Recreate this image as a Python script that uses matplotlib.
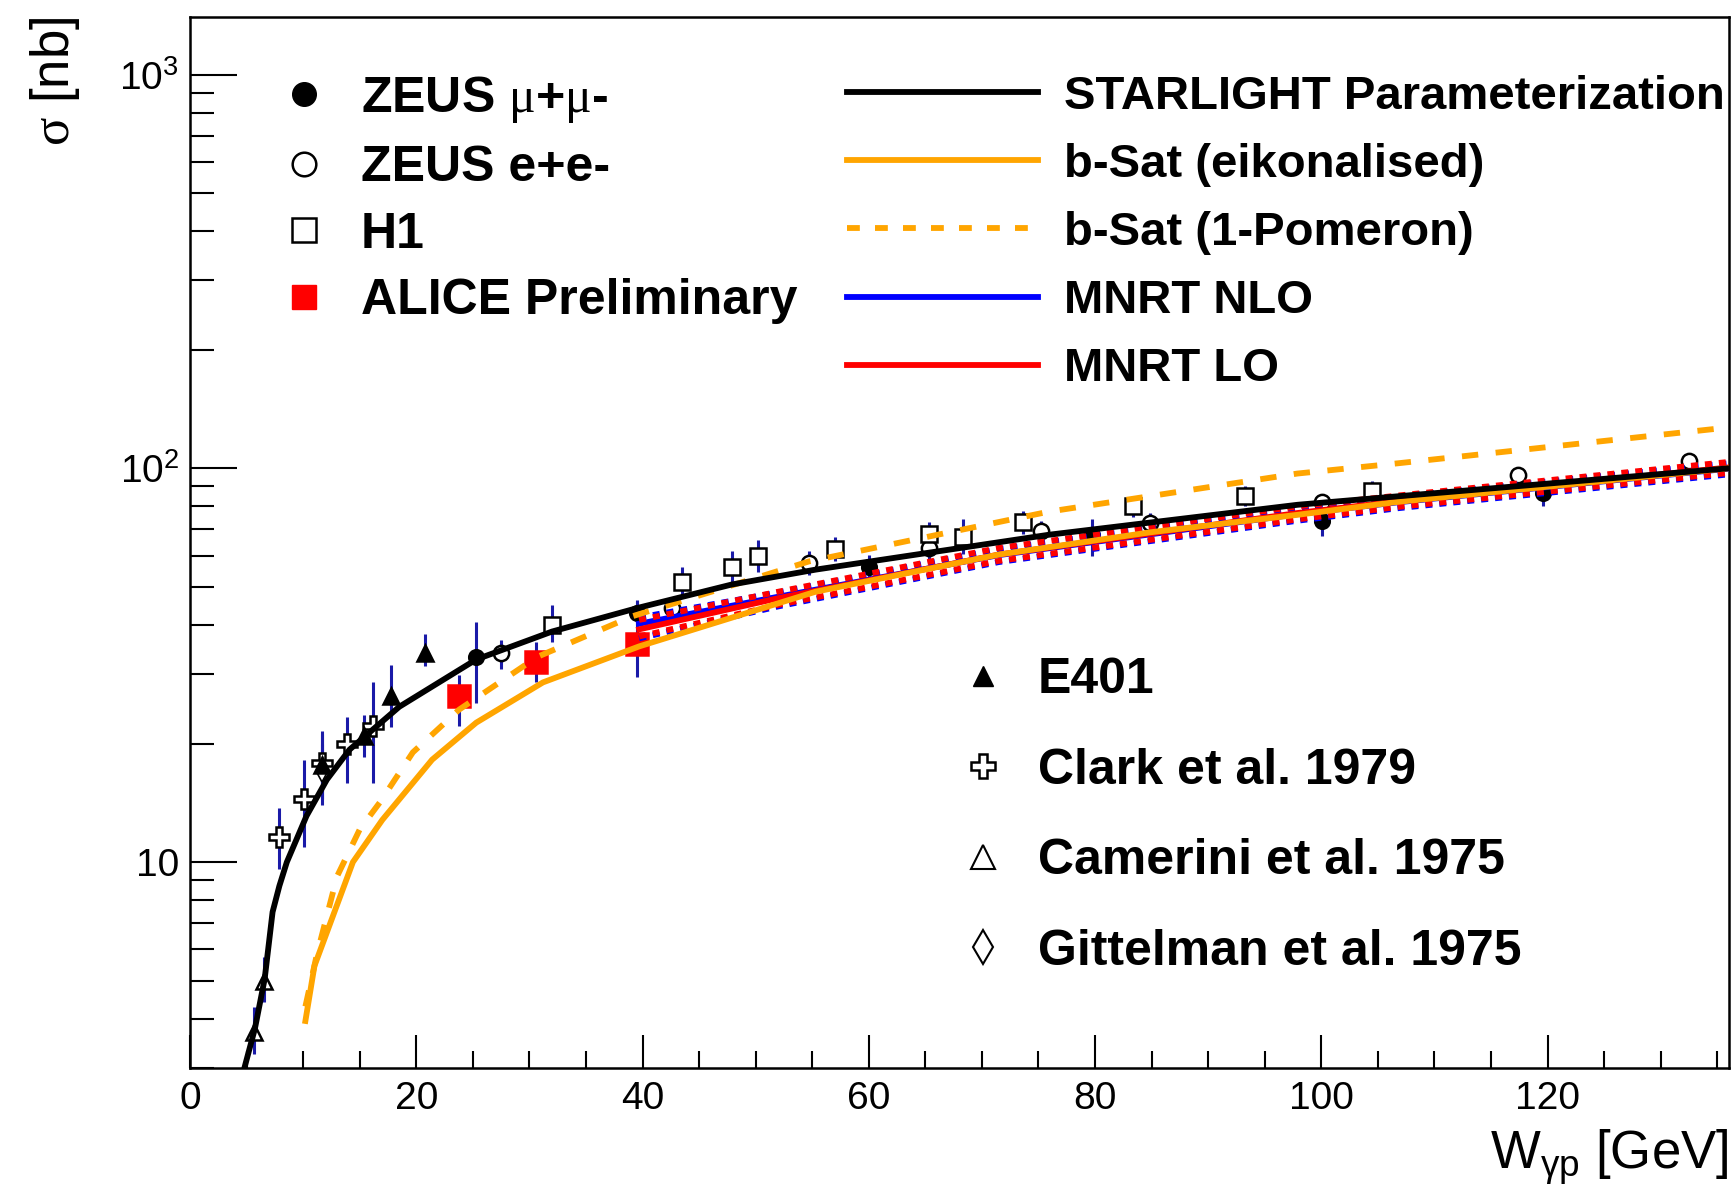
import matplotlib
matplotlib.use('Agg')
import matplotlib.pyplot as plt
from matplotlib.lines import Line2D
from matplotlib.ticker import MultipleLocator, LogLocator, FixedLocator, FixedFormatter, NullFormatter

plt.rcParams['font.family'] = ['Liberation Sans', 'DejaVu Sans']
plt.rcParams['mathtext.fontset'] = 'custom'
plt.rcParams['mathtext.rm'] = 'Liberation Serif'
plt.rcParams['mathtext.sf'] = 'Liberation Sans'

ERR = '#1a1aa8'

# ---- data points (W [GeV], sigma [nb], err down, err up)
zeus_mm_w = [25.3, 39.5, 60.0, 79.7, 100.1, 119.6]
zeus_mm_s = [33.1, 43.0, 56.2, 67.8, 73.5, 86.7]
zeus_mm_lo = [7.8, 3.0, 4.0, 8.0, 6.0, 6.5]
zeus_mm_hi = [7.5, 3.0, 4.0, 6.5, 6.0, 6.8]

zeus_ee_w = [27.5, 42.6, 54.7, 65.3, 75.2, 84.9, 100.1, 117.4, 132.5]
zeus_ee_s = [33.9, 44.3, 57.6, 62.8, 69.5, 72.8, 82.3, 96.4, 104.5]
zeus_ee_lo = [3.0, 3.0, 4.0, 4.0, 4.0, 4.0, 4.0, 4.0, 5.0]
zeus_ee_hi = [2.8, 2.7, 4.0, 4.0, 4.0, 4.0, 4.0, 4.0, 5.0]

h1_w = [32.0, 43.5, 47.9, 50.2, 57.0, 65.3, 68.3, 73.6, 83.4, 93.3, 104.5]
h1_s = [40.1, 51.3, 56.0, 60.0, 62.5, 68.2, 67.0, 73.1, 80.3, 85.2, 87.7]
h1_lo = [3.9, 4.4, 4.7, 5.6, 4.5, 5.0, 6.5, 5.0, 5.0, 5.0, 5.0]
h1_hi = [5.0, 4.7, 5.6, 5.6, 4.5, 5.0, 7.3, 5.0, 5.0, 5.0, 5.0]

alice_w = [23.8, 30.6, 39.5]
alice_s = [26.4, 32.3, 35.9]
alice_lo = [4.3, 3.7, 6.3]
alice_hi = [3.5, 3.9, 10.5]

e401_w = [11.7, 15.4, 17.8, 20.8]
e401_s = [17.6, 20.9, 26.4, 34.0]
e401_lo = [3.1, 2.4, 4.4, 2.6]
e401_hi = [3.6, 2.8, 5.3, 3.9]

clark_w = [7.9, 10.1, 11.7, 13.9, 16.2]
clark_s = [11.6, 14.5, 17.9, 19.9, 22.1]
clark_lo = [2.0, 3.6, 3.4, 4.0, 6.2]
clark_hi = [2.1, 3.7, 3.6, 3.5, 6.5]

camerini_w = [5.7, 6.5]
camerini_s = [3.71, 4.99]
camerini_lo = [0.45, 0.57]
camerini_hi = [0.58, 0.75]

gittelman_w = [11.7]
gittelman_s = [17.0]
gittelman_lo = [3.0]
gittelman_hi = [3.0]

# ---- model curves
starlight_w = [4.6, 5.74, 6.6, 7.3, 7.9, 8.56, 10.3, 12.1, 14.1, 18.5, 25.3, 32.0, 39.7,
               47.9, 55.3, 75.9, 97.9, 136]
starlight_s = [2.85, 3.78, 5.05, 7.47, 8.7, 10.0, 13.1, 16.2, 19.3, 24.8, 32.7, 38.5, 44.3,
               50.7, 55.3, 67.8, 80.8, 100]

bsat_eik_w = [10.2, 11.0, 14.4, 17.0, 21.4, 25.3, 31.2, 39.7, 55.3, 71.5, 84.9, 97.9, 106.8, 136]
bsat_eik_s = [3.95, 5.45, 10.0, 12.8, 18.2, 22.6, 28.6, 35.3, 48.6, 60.4, 68.8, 76.2, 82.2, 100]

bsat_1p_w = [10.2, 11.2, 13.0, 15.0, 16.8, 19.7, 23.8, 30.7, 39.1, 54.7, 75.9, 97.9, 106.8, 136]
bsat_1p_s = [4.3, 5.8, 9.2, 12.1, 14.2, 19.0, 24.4, 33.2, 42.1, 58.0, 77.6, 97.0, 103.0, 127]

mnrt_w = [39.7, 52.0, 71.5, 97.9, 106.8, 136]
mnrt_lo_c = [39.0, 46.8, 60.4, 77.0, 82.5, 100.5]
mnrt_lo_hi = [41.2, 48.6, 62.8, 80.0, 85.3, 103.8]
mnrt_lo_lo = [37.4, 45.0, 58.2, 74.2, 79.8, 97.3]
mnrt_nlo_c = [40.3, 47.2, 60.2, 76.5, 82.0, 99.8]
mnrt_nlo_hi = [41.8, 48.4, 62.4, 79.4, 84.8, 103.0]
mnrt_nlo_lo = [37.0, 44.6, 57.8, 73.6, 79.2, 96.5]

ORANGE = '#ffa500'

fig = plt.figure(figsize=(17.32, 11.88), dpi=100)
ax = fig.add_axes([0.1097, 0.101, 0.8883, 0.8847])
ax.set_yscale('log')
ax.set_xlim(0, 136)
ax.set_ylim(3, 1400)


def draw_points(w, s, lo, hi, marker, ms, fc, ec='k', mew=1.8):
    ax.errorbar(w, s, yerr=[lo, hi], fmt='none', ecolor=ERR, elinewidth=2.2,
                capsize=0, zorder=2)
    ax.plot(w, s, ls='none', marker=marker, ms=ms, mfc=fc, mec=ec, mew=mew, zorder=3)


draw_points(camerini_w, camerini_s, camerini_lo, camerini_hi, '^', 12, 'white')
draw_points(clark_w, clark_s, clark_lo, clark_hi, 'P', 14, 'white')
draw_points(gittelman_w, gittelman_s, gittelman_lo, gittelman_hi, 'd', 11, 'white', mew=1.2)
draw_points(e401_w, e401_s, e401_lo, e401_hi, '^', 12, 'k')
draw_points(zeus_mm_w, zeus_mm_s, zeus_mm_lo, zeus_mm_hi, 'o', 10.5, 'k')
draw_points(zeus_ee_w, zeus_ee_s, zeus_ee_lo, zeus_ee_hi, 'o', 11, 'white')
draw_points(h1_w, h1_s, h1_lo, h1_hi, 's', 11, 'white')
draw_points(alice_w, alice_s, alice_lo, alice_hi, 's', 16, 'red', ec='red')

lw = 4.2
dot = (1.2, 1.2)
ax.plot(mnrt_w, mnrt_nlo_hi, color='blue', lw=lw, dashes=dot, zorder=4)
ax.plot(mnrt_w, mnrt_nlo_lo, color='blue', lw=lw, dashes=dot, zorder=4)
ax.plot(mnrt_w, mnrt_nlo_c, color='blue', lw=lw, zorder=4)
ax.plot(mnrt_w, mnrt_lo_hi, color='red', lw=lw, dashes=dot, zorder=4)
ax.plot(mnrt_w, mnrt_lo_lo, color='red', lw=lw, dashes=dot, zorder=4)
ax.plot(mnrt_w, mnrt_lo_c, color='red', lw=lw, zorder=4)
ax.plot(bsat_eik_w, bsat_eik_s, color=ORANGE, lw=lw, zorder=5)
ax.plot(bsat_1p_w, bsat_1p_s, color=ORANGE, lw=lw, dashes=(2.8, 3.0), zorder=5)
ax.plot(starlight_w, starlight_s, color='k', lw=lw, zorder=6)

# ---- axes style
for sp in ax.spines.values():
    sp.set_linewidth(1.8)
ax.xaxis.set_major_locator(MultipleLocator(20))
ax.xaxis.set_minor_locator(MultipleLocator(5))
ax.yaxis.set_major_locator(FixedLocator([10, 100, 1000]))
ax.yaxis.set_major_formatter(FixedFormatter(['10', r'$\mathsf{10^{2}}$', r'$\mathsf{10^{3}}$']))
ax.yaxis.set_minor_locator(LogLocator(base=10, subs=range(2, 10)))
ax.yaxis.set_minor_formatter(NullFormatter())
ax.tick_params(which='both', direction='in', top=False, right=False, width=1.5, labelsize=28)
ax.tick_params(axis='x', which='major', length=24, pad=9)
ax.tick_params(axis='x', which='minor', length=12)
ax.tick_params(axis='y', which='major', length=34, pad=8)
ax.tick_params(axis='y', which='minor', length=17)

ax.set_xlabel(r'$\mathsf{W_{\gamma p}}$ [GeV]', fontsize=38, loc='right', labelpad=8)
ax.set_ylabel(r'$\mathrm{σ}$ [nb]', fontsize=38, loc='top')
ax.yaxis.set_label_coords(-0.07, 1.0)

# ---- legends
prop_big = {'family': 'Liberation Sans', 'weight': 'bold', 'size': 36}
prop_mid = {'family': 'Liberation Sans', 'weight': 'bold', 'size': 34}

h_left = [
    Line2D([], [], ls='none', marker='o', ms=17, mfc='k', mec='k'),
    Line2D([], [], ls='none', marker='o', ms=17, mfc='white', mec='k', mew=1.8),
    Line2D([], [], ls='none', marker='s', ms=17, mfc='white', mec='k', mew=1.8),
    Line2D([], [], ls='none', marker='s', ms=17, mfc='red', mec='red'),
]
l_left = ['ZEUS $\\mathrm{μ}$+$\\mathrm{μ}$-', 'ZEUS e+e-', 'H1', 'ALICE Preliminary']
leg1 = ax.legend(h_left, l_left, loc='upper left', bbox_to_anchor=(0.0578, 0.946),
                 frameon=False, prop=prop_big, handlelength=1.0, handletextpad=0.64,
                 labelspacing=0.41, borderpad=0, borderaxespad=0)
ax.add_artist(leg1)

h_right = [
    Line2D([], [], color='k', lw=lw),
    Line2D([], [], color=ORANGE, lw=lw),
    Line2D([], [], color=ORANGE, lw=lw, dashes=(2.2, 2.6)),
    Line2D([], [], color='blue', lw=lw),
    Line2D([], [], color='red', lw=lw),
]
l_right = ['STARLIGHT Parameterization', 'b-Sat (eikonalised)', 'b-Sat (1-Pomeron)',
           'MNRT NLO', 'MNRT LO']
leg2 = ax.legend(h_right, l_right, loc='upper left', bbox_to_anchor=(0.427, 0.945),
                 frameon=False, prop=prop_mid, handlelength=4.05, handletextpad=0.55,
                 labelspacing=0.51, borderpad=0, borderaxespad=0)
ax.add_artist(leg2)

h_low = [
    Line2D([], [], ls='none', marker='^', ms=15, mfc='k', mec='k'),
    Line2D([], [], ls='none', marker='P', ms=17, mfc='white', mec='k', mew=1.8),
    Line2D([], [], ls='none', marker='^', ms=17, mfc='white', mec='k', mew=1.5),
    Line2D([], [], ls='none', marker='d', ms=17, mfc='white', mec='k', mew=1.5),
]
l_low = ['E401', 'Clark et al. 1979', 'Camerini et al. 1975', 'Gittelman et al. 1975']
leg3 = ax.legend(h_low, l_low, loc='upper left', bbox_to_anchor=(0.499, 0.391),
                 frameon=False, prop=prop_big, handlelength=1.0, handletextpad=0.6,
                 labelspacing=0.89, borderpad=0, borderaxespad=0)

fig.savefig('out.png', dpi=100)
